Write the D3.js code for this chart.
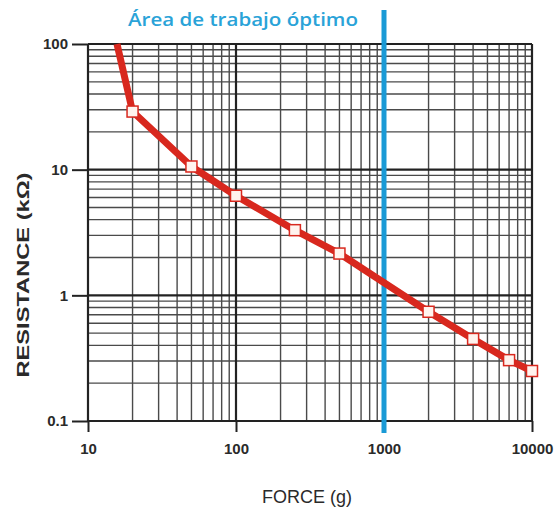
<!DOCTYPE html>
<html><head><meta charset="utf-8">
<script src="https://cdn.jsdelivr.net/npm/d3@7"></script>
<style>body{margin:0;background:#fff}svg{display:block}</style>
</head><body>
<script>
// Data
const forceTicks = [10, 100, 1000, 10000];
const forceTickLabels = ["10", "100", "1000", "10000"];
const resTicks = [0.1, 1, 10, 100];
const resTickLabels = ["0.1", "1", "10", "100"];
const curveForce = [15.7, 20, 50, 100, 250, 500, 2000, 4000, 7000, 10000];
const curveRes   = [100, 29, 10.6, 6.2, 3.3, 2.15, 0.74, 0.45, 0.305, 0.25];
const markerForce = [20, 50, 100, 250, 500, 2000, 4000, 7000, 10000];
const markerRes   = [29, 10.6, 6.2, 3.3, 2.15, 0.74, 0.45, 0.305, 0.25];
const optimumForce = 1000;
const title = "Área de trabajo óptimo";
const xTitle = "FORCE (g)";
const yTitle = "RESISTANCE (kΩ)";

const W = 556, H = 511;
const svg = d3.select("body").append("svg").attr("width", W).attr("height", H);
const x = d3.scaleLog().domain([10, 10000]).range([88, 532]);
const y = d3.scaleLog().domain([0.1, 100]).range([421, 44]);

// minor grid values
const xMinor = [], yMinor = [];
for (let k = 1; k <= 3; k++) for (let d = 2; d <= 9; d++) xMinor.push(d * Math.pow(10, k));
for (let k = -1; k <= 1; k++) for (let d = 2; d <= 9; d++) yMinor.push(+(d * Math.pow(10, k)).toPrecision(3));

const g = svg.append("g");
g.selectAll(".vx").data(xMinor).join("line")
  .attr("x1", d => x(d)).attr("x2", d => x(d)).attr("y1", y(100)).attr("y2", y(0.1))
  .attr("stroke", "#4a4a4a").attr("stroke-width", 1.4);
g.selectAll(".hy").data(yMinor).join("line")
  .attr("y1", d => y(d)).attr("y2", d => y(d)).attr("x1", x(10)).attr("x2", x(10000))
  .attr("stroke", "#4a4a4a").attr("stroke-width", 1.4);
g.selectAll(".mx").data(forceTicks).join("line")
  .attr("x1", d => x(d)).attr("x2", d => x(d)).attr("y1", y(100)).attr("y2", y(0.1))
  .attr("stroke", "#222").attr("stroke-width", 2.2);
g.selectAll(".my").data(resTicks).join("line")
  .attr("y1", d => y(d)).attr("y2", d => y(d)).attr("x1", x(10)).attr("x2", x(10000))
  .attr("stroke", "#222").attr("stroke-width", 2.2);

// axes
const xAxis = d3.axisBottom(x).tickValues(forceTicks).tickFormat((d, i) => forceTickLabels[i]).tickSize(11).tickPadding(8);
const yAxis = d3.axisLeft(y).tickValues(resTicks).tickFormat((d, i) => resTickLabels[i]).tickSize(16).tickPadding(4);
const ax = svg.append("g").attr("transform", `translate(0,${y(0.1)})`).call(xAxis);
const ay = svg.append("g").attr("transform", `translate(${x(10)},0)`).call(yAxis);
[ax, ay].forEach(a => {
  a.select(".domain").remove();
  a.selectAll(".tick line").attr("stroke", "#222").attr("stroke-width", 2);
  a.selectAll("text").attr("font-family", "Liberation Sans, Arial, sans-serif")
    .attr("font-weight", "bold").attr("font-size", 15).attr("fill", "#2a2a2a");
});
ax.selectAll("text").attr("dy", "0.9em");

// optimum line
svg.append("line").attr("x1", x(optimumForce)).attr("x2", x(optimumForce))
  .attr("y1", 10).attr("y2", 433).attr("stroke", "#1a9ad6").attr("stroke-width", 5);

// curve
const line = d3.line().x(d => x(d[0])).y(d => y(d[1]));
svg.append("path").datum(curveForce.map((f, i) => [f, curveRes[i]]))
  .attr("d", line).attr("fill", "none").attr("stroke", "#d8281e")
  .attr("stroke-width", 7).attr("stroke-linejoin", "round");
svg.selectAll(".mk").data(markerForce.map((f, i) => [f, markerRes[i]])).join("rect")
  .attr("x", d => x(d[0]) - 5.5).attr("y", d => y(d[1]) - 5.5)
  .attr("width", 11).attr("height", 11)
  .attr("fill", "#fff3ee").attr("stroke", "#d8281e").attr("stroke-width", 1.5);

// titles
svg.append("text").attr("x", 128).attr("y", 26).text(title)
  .attr("font-family", "Open Sans, sans-serif").attr("font-weight", 600)
  .attr("font-size", 18).attr("fill", "#2aa3d8")
  .attr("textLength", 230).attr("lengthAdjust", "spacingAndGlyphs");
svg.append("text").attr("x", 307).attr("y", 503).attr("text-anchor", "middle").text(xTitle)
  .attr("font-family", "Liberation Sans, Arial, sans-serif").attr("font-size", 18).attr("fill", "#2a2a2a")
  .attr("textLength", 90).attr("lengthAdjust", "spacingAndGlyphs");
svg.append("text").attr("transform", "translate(29,275) rotate(-90)").attr("text-anchor", "middle").text(yTitle)
  .attr("font-family", "Liberation Sans, Arial, sans-serif").attr("font-weight", "bold")
  .attr("font-size", 17).attr("fill", "#2a2a2a")
  .attr("textLength", 205).attr("lengthAdjust", "spacingAndGlyphs");
</script>
</body></html>
